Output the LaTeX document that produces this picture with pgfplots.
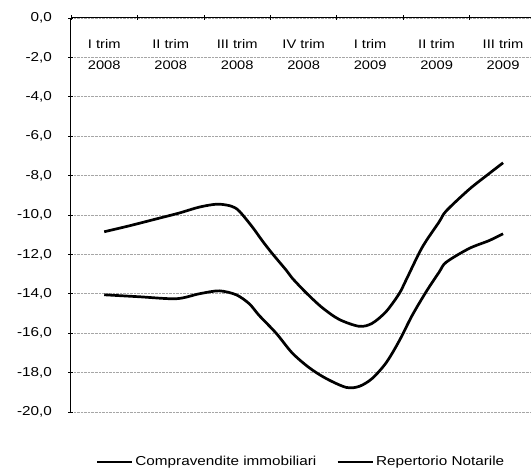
\documentclass[border=0pt]{standalone}
\usepackage{pgfplots}
\pgfplotsset{compat=1.18}
\usepackage{fontspec}
\setmainfont[FakeStretch=1.18]{Liberation Sans}
\begin{document}
\begin{tikzpicture}
\begin{axis}[
  name=ax,
  scale only axis,
  width=460bp, height=394bp,
  xmin=-0.5, xmax=6.42,
  ymin=-20, ymax=0,
  axis x line=top, axis y line=left,
  axis line style={-, black, line width=1bp},
  xtick={-0.5,0.5,1.5,2.5,3.5,4.5,5.5},
  xticklabels={},
  major tick length=5bp,
  tick style={black, line width=0.8bp},
  tick align=center,
  extra x ticks={0,1,2,3,4,5,6},
  extra x tick labels={{I trim\\2008},{II trim\\2008},{III trim\\2008},{IV trim\\2008},{I trim\\2009},{II trim\\2009},{III trim\\2009}},
  extra x tick style={major tick length=0pt, grid=none},
  every x tick label/.append style={anchor=north, yshift=-18bp, align=center, font=\fontsize{12.5}{21}\selectfont},
  ytick={-20,-18,...,0},
  /pgf/number format/fixed,
  /pgf/number format/fixed zerofill,
  /pgf/number format/precision=1,
  /pgf/number format/use comma,
  /pgf/number format/assume math mode=true,
  every y tick label/.append style={font=\fontsize{13}{15}\selectfont, xshift=-13bp},
  ymajorgrids,
  grid style={gray!70, densely dotted, line width=0.7bp},
  legend style={at={(0.5,-0.127)}, anchor=center, draw=none, legend columns=2,
    font=\fontsize{13}{15}\selectfont, /tikz/every even column/.append style={column sep=18bp}},
  legend image code/.code={\draw[#1] (0bp,0bp) -- (35bp,0bp);},
  clip=false,
]
\addplot[black, line width=2.7bp, smooth, tension=0.5] coordinates {
(0,-10.85) (0.376,-10.55) (0.782,-10.2) (1.128,-9.9) (1.429,-9.6) (1.699,-9.45) (1.910,-9.55) (2.030,-9.8) (2.226,-10.6) (2.376,-11.3) (2.526,-11.95) (2.737,-12.8) (2.827,-13.2) (3.038,-13.95) (3.278,-14.7) (3.534,-15.3) (3.835,-15.65) (4.030,-15.5) (4.241,-14.9) (4.436,-14.0) (4.541,-13.3) (4.782,-11.65) (5.038,-10.35) (5.143,-9.8) (5.489,-8.7) (5.789,-7.9) (6,-7.35)
};
\addlegendentry{Compravendite immobiliari}
\addplot[black, line width=2.7bp, smooth, tension=0.5] coordinates {
(0,-14.05) (0.526,-14.15) (1.083,-14.25) (1.429,-14.0) (1.729,-13.85) (1.985,-14.05) (2.180,-14.5) (2.331,-15.1) (2.586,-16.0) (2.827,-17.0) (3.083,-17.75) (3.338,-18.3) (3.639,-18.75) (3.835,-18.7) (4.030,-18.3) (4.241,-17.5) (4.436,-16.4) (4.632,-15.1) (4.842,-13.9) (5.038,-12.9) (5.143,-12.4) (5.489,-11.7) (5.789,-11.3) (6,-10.95)
};
\addlegendentry{Repertorio Notarile}
\end{axis}
\pgfresetboundingbox
\path (ax.north west) ++(-71bp,18bp) rectangle ++(531bp,-475bp);
\end{tikzpicture}
\end{document}
